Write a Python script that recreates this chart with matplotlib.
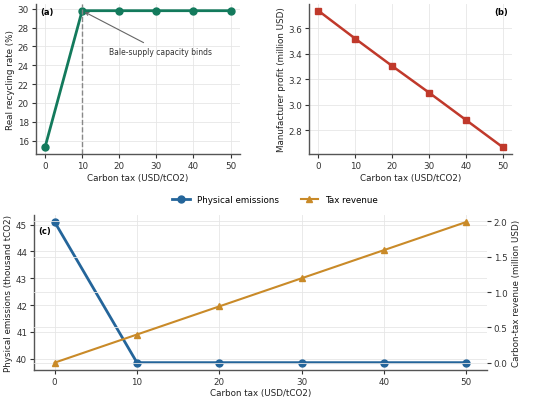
import matplotlib
matplotlib.use("Agg")
import matplotlib.pyplot as plt

tax = [0, 10, 20, 30, 40, 50]
recycling_rate = [15.3, 29.8, 29.8, 29.8, 29.8, 29.8]
profit = [3.74, 3.52, 3.305, 3.095, 2.88, 2.665]
emissions = [45.1, 39.85, 39.85, 39.85, 39.85, 39.85]
revenue = [0.0, 0.3985, 0.797, 1.1955, 1.594, 1.9925]

green = '#137a5c'
red = '#c0392b'
blue = '#24659a'
orange = '#c98a28'

fs = 6.3
plt.rcParams['font.size'] = fs
plt.rcParams['axes.edgecolor'] = '#555555'
plt.rcParams['xtick.color'] = '#333333'
plt.rcParams['ytick.color'] = '#333333'
plt.rcParams['axes.labelcolor'] = '#222222'


def style(ax):
    ax.grid(True, color='#e6e6e6', linewidth=0.6)
    ax.set_axisbelow(True)
    ax.spines['top'].set_visible(False)
    ax.spines['right'].set_visible(False)
    ax.spines['left'].set_linewidth(1.0)
    ax.spines['bottom'].set_linewidth(1.0)
    ax.tick_params(length=3, width=0.8, labelsize=fs, pad=2)


fig = plt.figure(figsize=(5.5, 4.06), dpi=100)

# (a) recycling rate
ax_a = fig.add_axes([0.065, 0.618, 0.371, 0.37])
style(ax_a)
ax_a.plot(tax, recycling_rate, color=green, linewidth=2, marker='o', markersize=5)
ax_a.axvline(10, color='#888888', linestyle='--', linewidth=1)
ax_a.annotate('Bale-supply capacity binds', xy=(10, 29.8), xytext=(31, 25.5),
              ha='center', va='center', fontsize=5.5, color='#333333',
              arrowprops=dict(arrowstyle='->', color='#666666', linewidth=0.8))
ax_a.set_xticks(tax)
ax_a.set_yticks([16, 18, 20, 22, 24, 26, 28, 30])
ax_a.set_xlabel('Carbon tax (USD/tCO2)', labelpad=2)
ax_a.set_ylabel('Real recycling rate (%)', labelpad=2)
ax_a.text(0.02, 0.95, '(a)', transform=ax_a.transAxes, fontweight='bold',
          ha='left', va='center', fontsize=6)

# (b) manufacturer profit
ax_b = fig.add_axes([0.562, 0.618, 0.369, 0.37])
style(ax_b)
ax_b.plot(tax, profit, color=red, linewidth=1.8, marker='s', markersize=5)
ax_b.set_xticks(tax)
ax_b.set_yticks([2.8, 3.0, 3.2, 3.4, 3.6])
ax_b.set_xlabel('Carbon tax (USD/tCO2)', labelpad=2)
ax_b.set_ylabel('Manufacturer profit (million USD)', labelpad=2)
ax_b.text(0.98, 0.95, '(b)', transform=ax_b.transAxes, fontweight='bold',
          ha='right', va='center', fontsize=6)

# (c) emissions and tax revenue
ax_c = fig.add_axes([0.062, 0.087, 0.823, 0.381])
style(ax_c)
l1, = ax_c.plot(tax, emissions, color=blue, linewidth=2, marker='o', markersize=5,
                label='Physical emissions')
ax_c.set_xticks(tax)
ax_c.set_xlabel('Carbon tax (USD/tCO2)', labelpad=2)
ax_c.set_ylabel('Physical emissions (thousand tCO2)', labelpad=2)
ax_c.text(0.01, 0.9, '(c)', transform=ax_c.transAxes, fontweight='bold',
          ha='left', va='center', fontsize=6)

ax_r = ax_c.twinx()
ax_r.grid(True, color='#e6e6e6', linewidth=0.6)
for s in ['top', 'right', 'left', 'bottom']:
    ax_r.spines[s].set_visible(False)
ax_r.tick_params(length=3, width=0.8, labelsize=fs, pad=2)
l2, = ax_r.plot(tax, revenue, color=orange, linewidth=1.5, marker='^', markersize=5,
                label='Tax revenue')
ax_r.set_yticks([0.0, 0.5, 1.0, 1.5, 2.0])
ax_r.set_ylabel('Carbon-tax revenue (million USD)', labelpad=3)

fig.legend(handles=[l1, l2], loc='center', bbox_to_anchor=(0.5, 0.505), ncol=2,
           frameon=False, fontsize=fs, columnspacing=2.5)

plt.savefig('out.png', dpi=100)
